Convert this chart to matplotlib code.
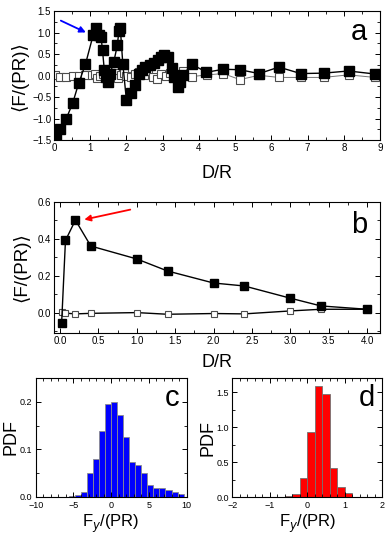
import numpy as np
import matplotlib.pyplot as plt
from matplotlib.ticker import MultipleLocator

plt.rcParams["font.family"] = ["Liberation Sans", "DejaVu Sans"]

# panel a: filled (solid) and open squares
a_x_full = [0.05, 0.17, 0.34, 0.52, 0.68, 0.87, 1.08, 1.16, 1.24, 1.3, 1.34, 1.39,
            1.44, 1.5, 1.55, 1.65, 1.75, 1.79, 1.83, 1.9, 2.0, 2.12, 2.24, 2.36,
            2.43, 2.52, 2.64, 2.75, 2.86, 2.95, 3.05, 3.14, 3.26, 3.32, 3.42,
            3.49, 3.56, 3.8, 4.21, 4.67, 5.13, 5.66, 6.21, 6.81, 7.44, 8.13, 8.86]
a_y_full = [-1.37, -1.23, -1.0, -0.63, -0.18, 0.27, 0.94, 1.1, 0.95, 0.9, 0.59,
            0.13, -0.02, -0.14, 0.05, 0.32, 0.71, 1.03, 1.12, 0.28, -0.57, -0.41,
            -0.22, 0.05, 0.14, 0.2, 0.24, 0.3, 0.36, 0.44, 0.48, 0.44, 0.17,
            -0.03, -0.26, -0.14, 0.01, 0.27, 0.08, 0.15, 0.14, 0.05, 0.2, 0.05,
            0.06, 0.11, 0.04]
a_x_open = [0.03, 0.17, 0.34, 0.52, 0.68, 0.87, 1.04, 1.12, 1.2, 1.28, 1.36, 1.44,
            1.52, 1.6, 1.68, 1.76, 1.84, 1.92, 2.0, 2.12, 2.24, 2.36, 2.48, 2.6,
            2.72, 2.84, 2.96, 3.08, 3.2, 3.32, 3.44, 3.56, 3.81, 4.23, 4.67,
            5.13, 5.66, 6.21, 6.81, 7.44, 8.13, 8.86]
a_y_open = [0.02, -0.03, -0.02, -0.01, 0.0, 0.02, 0.01, 0.04, -0.05, 0.0, 0.03,
            -0.06, 0.05, -0.03, 0.06, -0.06, 0.02, 0.07, 0.0, -0.02, 0.04, 0.08,
            0.02, 0.1, -0.03, -0.08, 0.03, 0.0, 0.06, -0.03, 0.05, 0.1, -0.02,
            0.02, 0.05, -0.09, 0.01, -0.04, -0.04, -0.04, 0.02, -0.04]

# panel b
b_x = [0.02, 0.07, 0.2, 0.4, 1.0, 1.4, 2.0, 2.4, 3.0, 3.4, 4.0]
b_y_full = [-0.055, 0.39, 0.5, 0.36, 0.29, 0.225, 0.16, 0.144, 0.078, 0.036, 0.018]
b_y_open = [0.005, -0.003, -0.007, -0.004, 0.0, -0.009, -0.005, -0.007, 0.009, 0.018, 0.018]

# panel c histogram (bin width 0.8)
c_left = [-5.6, -4.8, -4.0, -3.2, -2.4, -1.6, -0.8, 0.0, 0.8, 1.6, 2.4, 3.2,
          4.0, 4.8, 5.6, 6.4, 7.2, 8.0, 8.8]
c_pdf = [0.001, 0.003, 0.009, 0.051, 0.079, 0.139, 0.195, 0.199, 0.173, 0.126,
         0.074, 0.066, 0.050, 0.024, 0.019, 0.019, 0.015, 0.009, 0.005]

# panel d histogram (bin width 0.2)
d_left = [-0.6, -0.4, -0.2, 0.0, 0.2, 0.4, 0.6, 0.8, 1.0]
d_pdf = [0.015, 0.045, 0.27, 0.93, 1.59, 1.47, 0.425, 0.148, 0.066]

fig = plt.figure(figsize=(3.91, 5.37), dpi=100)


def style(ax, size=7):
    ax.tick_params(which="both", direction="in", top=True, right=True,
                   labelsize=size, pad=2)
    ax.tick_params(which="major", length=3.5, width=0.7)
    ax.tick_params(which="minor", length=2, width=0.6)
    for s in ax.spines.values():
        s.set_linewidth(0.8)


ylab = "\u27e8F/(PR)\u27e9"

# --- a ---
ax = fig.add_axes([0.138, 0.739, 0.834, 0.240])
ax.plot(a_x_open, a_y_open, "-", color="0.45", lw=0.7, marker="s", ms=6,
        mfc="white", mec="0.3", mew=0.8, zorder=2)
ax.plot(a_x_full, a_y_full, "-", color="black", lw=1.0, marker="s", ms=6.5,
        mfc="black", mec="black", zorder=3)
ax.set_xlim(0, 9)
ax.set_ylim(-1.5, 1.5)
ax.xaxis.set_major_locator(MultipleLocator(1))
ax.xaxis.set_minor_locator(MultipleLocator(0.5))
ax.yaxis.set_major_locator(MultipleLocator(0.5))
ax.yaxis.set_minor_locator(MultipleLocator(0.25))
style(ax)
ax.set_xlabel("D/R", fontsize=13, labelpad=9)
ax.set_ylabel(ylab, fontsize=13.5, labelpad=3)
ax.annotate("", xy=(0.95, 0.98), xytext=(0.12, 1.31),
            arrowprops=dict(arrowstyle="-|>", color="blue", lw=1.3,
                            mutation_scale=9))
ax.text(0.96, 0.84, "a", transform=ax.transAxes, fontsize=21,
        ha="right", va="center")

# --- b ---
ax = fig.add_axes([0.138, 0.380, 0.834, 0.2445])
ax.plot(b_x, b_y_open, "-", color="black", lw=1.0, marker="s", ms=5,
        mfc="white", mec="0.3", mew=0.8, zorder=2)
ax.plot(b_x, b_y_full, "-", color="black", lw=1.0, marker="s", ms=5.5,
        mfc="black", mec="black", zorder=3)
ax.set_xlim(-0.08, 4.17)
ax.set_ylim(-0.11, 0.6)
ax.xaxis.set_major_locator(MultipleLocator(0.5))
ax.xaxis.set_minor_locator(MultipleLocator(0.25))
ax.yaxis.set_major_locator(MultipleLocator(0.2))
ax.yaxis.set_minor_locator(MultipleLocator(0.1))
ax.xaxis.set_major_formatter(lambda v, p: f"{v:.1f}")
ax.yaxis.set_major_formatter(lambda v, p: f"{v:.1f}")
style(ax)
ax.set_xlabel("D/R", fontsize=13, labelpad=6)
ax.set_ylabel(ylab, fontsize=13.5, labelpad=5)
ax.annotate("", xy=(0.28, 0.50), xytext=(0.95, 0.56),
            arrowprops=dict(arrowstyle="-|>", color="red", lw=1.3,
                            mutation_scale=9))
ax.text(0.96, 0.82, "b", transform=ax.transAxes, fontsize=21,
        ha="right", va="center")

# --- c ---
ax = fig.add_axes([0.0913, 0.075, 0.386, 0.221])
ax.bar(c_left, c_pdf, width=0.8, align="edge", color="#0000ff",
       edgecolor="0.55", linewidth=0.6)
ax.set_xlim(-10, 10)
ax.set_ylim(0, 0.25)
ax.xaxis.set_major_locator(MultipleLocator(5))
ax.xaxis.set_minor_locator(MultipleLocator(1))
ax.yaxis.set_major_locator(MultipleLocator(0.1))
ax.yaxis.set_minor_locator(MultipleLocator(0.05))
style(ax, 6.5)
ax.tick_params(axis="y", pad=2.5)
ax.tick_params(axis="x", pad=3)
ax.set_xlabel("F$_y$/(PR)", fontsize=12, labelpad=2)
ax.set_ylabel("PDF", fontsize=13, labelpad=0)
ax.text(0.95, 0.83, "c", transform=ax.transAxes, fontsize=21,
        ha="right", va="center")

# --- d ---
ax = fig.add_axes([0.594, 0.074, 0.384, 0.2216])
ax.bar(d_left, d_pdf, width=0.2, align="edge", color="#ff0000",
       edgecolor="0.45", linewidth=0.6)
ax.set_xlim(-2, 2)
ax.set_ylim(0, 1.7)
ax.xaxis.set_major_locator(MultipleLocator(1))
ax.xaxis.set_minor_locator(MultipleLocator(0.2))
ax.yaxis.set_major_locator(MultipleLocator(0.5))
ax.yaxis.set_minor_locator(MultipleLocator(0.25))
style(ax, 6.5)
ax.tick_params(axis="y", pad=2.5)
ax.tick_params(axis="x", pad=3)
ax.set_xlabel("F$_y$/(PR)", fontsize=12, labelpad=2)
ax.set_ylabel("PDF", fontsize=13, labelpad=0)
ax.text(0.95, 0.83, "d", transform=ax.transAxes, fontsize=21,
        ha="right", va="center")

plt.savefig("out.png", dpi=100)
plt.close()
